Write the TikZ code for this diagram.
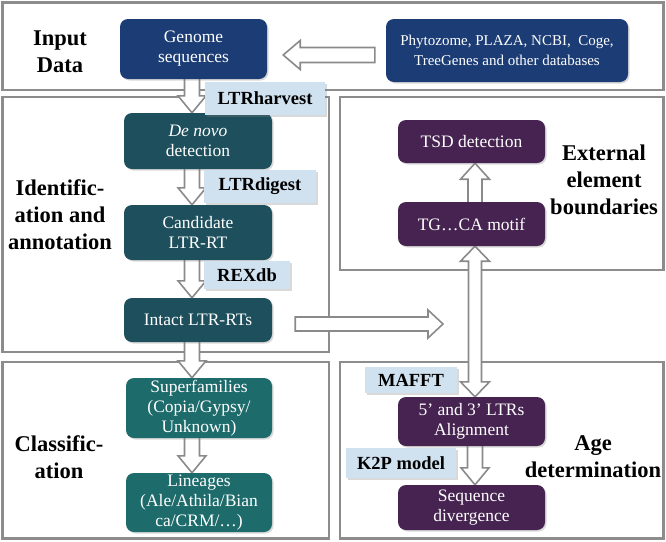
\documentclass[tikz,border=0pt]{standalone}
\usepackage{fontspec}
\setmainfont{Liberation Serif}
\usetikzlibrary{calc,shadows}
\definecolor{navy}{HTML}{1B3C74}
\definecolor{tealdk}{HTML}{1D4F5C}
\definecolor{tealmd}{HTML}{1E6B6B}
\definecolor{plum}{HTML}{462350}
\definecolor{lblue}{HTML}{D0E1EF}
\definecolor{panelgray}{HTML}{8C8C8C}
\definecolor{arrowgray}{HTML}{8A8A8A}
\pgfdeclarelayer{panels}
\pgfdeclarelayer{arrows}
\pgfsetlayers{panels,arrows,main}
\newcommand\hdown[3]{%
 \draw[harrow] let \p1=($(#1.south)+(#3,0)$), \p2=(#2.north) in
 (\x1-7.5pt,\y1+2pt) -- (\x1-7.5pt,\y2+17pt) -- (\x1-14pt,\y2+17pt) -- (\x1,\y2)
 -- (\x1+14pt,\y2+17pt) -- (\x1+7.5pt,\y2+17pt) -- (\x1+7.5pt,\y1+2pt) -- cycle;}
\begin{document}
\begin{tikzpicture}[x=1pt,y=-1pt,
 panel/.style={draw=panelgray,line width=2.5pt},
 box/.style={rounded corners=8pt,text=white,align=center,inner sep=0pt,
   font=\fontsize{17.5}{20}\selectfont,
   drop shadow={shadow xshift=1.5pt,shadow yshift=-1.5pt,opacity=0.3}},
 tool/.style={fill=lblue,inner sep=0pt,font=\bfseries\fontsize{18.5}{22}\selectfont,
   drop shadow={shadow xshift=1.5pt,shadow yshift=-1.5pt,opacity=0.3}},
 heading/.style={align=center,font=\bfseries\fontsize{22.5}{27}\selectfont},
 harrow/.style={draw=arrowgray,fill=white,line width=1.6pt,line join=miter}]
\useasboundingbox (0,0) rectangle (666,541);
% panels
\begin{pgfonlayer}{panels}
\draw[panel] (2.5,2.5) rectangle (663.5,90);
\draw[panel] (2.5,97) rectangle (329,352);
\draw[panel] (340,97) rectangle (663.5,270);
\draw[panel] (2.5,362) rectangle (329,538.5);
\draw[panel] (340,362) rectangle (663.5,538.5);
\end{pgfonlayer}
% headings
\node[heading] (hin) at (60,52) {Input\\Data};
\node[heading] (hid) at (60,215) {Identific-\\ation and\\annotation};
\node[heading] (hcl) at (59,457) {Classific-\\ation};
\node[heading] (hex) at (604,180) {External\\element\\boundaries};
\node[heading] (hage) at (593,457) {Age\\determination};
% nodes
\node[box,fill=navy,minimum width=147pt,minimum height=60pt] (gen) at (193.5,49) {Genome\\sequences};
\node[box,fill=navy,minimum width=242pt,minimum height=63pt,font=\fontsize{15}{20}\selectfont] (db) at (507,50.5) {Phytozome, PLAZA, NCBI,\ \ Coge,\\TreeGenes and other databases};
\node[box,fill=tealdk,minimum width=148pt,minimum height=56pt] (dn) at (198,141) {\textit{De novo}\\detection};
\node[box,fill=tealdk,minimum width=148pt,minimum height=55pt] (cand) at (198,232.5) {Candidate\\LTR-RT};
\node[box,fill=tealdk,minimum width=148pt,minimum height=44pt] (intact) at (198,320) {Intact LTR-RTs};
\node[box,fill=tealmd,minimum width=146pt,minimum height=60pt] (sf) at (199,408) {Superfamilies\\(Copia/Gypsy/\\Unknown)};
\node[box,fill=tealmd,minimum width=146pt,minimum height=59pt] (lin) at (199,502.5) {Lineages\\(Ale/Athila/Bian\\ca/CRM/…)};
\node[box,fill=plum,minimum width=147pt,minimum height=43pt] (tsd) at (471.5,141.5) {TSD detection};
\node[box,fill=plum,minimum width=147pt,minimum height=44pt] (tg) at (471.5,224) {TG…CA motif};
\node[box,fill=plum,minimum width=147pt,minimum height=49pt] (ltr) at (471.5,421.5) {5’ and 3’ LTRs\\Alignment};
\node[box,fill=plum,minimum width=147pt,minimum height=45pt] (seq) at (471.5,507.5) {Sequence\\divergence};
\coordinate (itip) at (443,324);
% arrows
\begin{pgfonlayer}{arrows}
\hdown{gen}{dn}{-1.5}
\hdown{dn}{cand}{-6}
\hdown{cand}{intact}{-6}
\hdown{intact}{sf}{-6}
\hdown{sf}{lin}{-7}
\hdown{ltr}{seq}{3.5}
\draw[harrow] let \p1=($(tg.north)+(3.5,0)$), \p2=(tsd.south) in
 (\x1-7pt,\y1-2pt) -- (\x1-7pt,\y2-16pt) -- (\x1-14.5pt,\y2-16pt) -- (\x1,\y2)
 -- (\x1+14.5pt,\y2-16pt) -- (\x1+7pt,\y2-16pt) -- (\x1+7pt,\y1-2pt) -- cycle;
\draw[harrow] let \p1=($(tg.south)+(3.5,0)$), \p2=(ltr.north) in
 (\x1,\y1) -- (\x1+14.5pt,\y1-15pt) -- (\x1+6.5pt,\y1-15pt) -- (\x1+6.5pt,\y2+15pt)
 -- (\x1+14.5pt,\y2+15pt) -- (\x1,\y2) -- (\x1-14.5pt,\y2+15pt) -- (\x1-6.5pt,\y2+15pt)
 -- (\x1-6.5pt,\y1-15pt) -- (\x1-14.5pt,\y1-15pt) -- cycle;
\draw[harrow] let \p1=($(db.west)+(-11,4.5)$), \p2=($(gen.east)+(16,4.5)$) in
 (\x1,\y1+7.5pt) -- (\x2+17pt,\y1+7.5pt) -- (\x2+17pt,\y1+14.5pt) -- (\x2,\y1)
 -- (\x2+17pt,\y1-14.5pt) -- (\x2+17pt,\y1-7.5pt) -- (\x1,\y1-7.5pt) -- cycle;
\draw[harrow] let \p1=($(intact.east)+(23,4)$), \p2=(itip) in
 (\x1,\y1+7pt) -- (\x2-15pt,\y1+7pt) -- (\x2-15pt,\y1+14pt) -- (\x2,\y1)
 -- (\x2-15pt,\y1-14pt) -- (\x2-15pt,\y1-7pt) -- (\x1,\y1-7pt) -- cycle;
\end{pgfonlayer}
% tool labels
\node[tool,minimum width=120pt,minimum height=33pt] (lh) at (265,98.5) {LTRharvest};
\node[tool,minimum width=112pt,minimum height=33pt] (ld) at (260,186.5) {LTRdigest};
\node[tool,minimum width=86pt,minimum height=28pt] (rex) at (247,275) {REXdb};
\node[tool,minimum width=92pt,minimum height=26pt] (mafft) at (411,380) {MAFFT};
\node[tool,minimum width=110pt,minimum height=30pt] (k2p) at (401,463) {K2P model};
\end{tikzpicture}
\end{document}
